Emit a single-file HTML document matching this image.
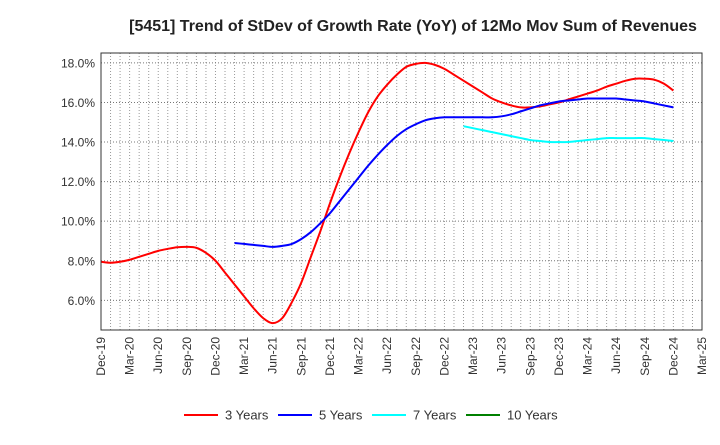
<!DOCTYPE html>
<html><head><meta charset="utf-8"><style>
body{margin:0;background:#fff;font-family:"Liberation Sans",Arial,sans-serif}
svg text{font-family:"Liberation Sans",Arial,sans-serif}
</style></head><body>
<svg id="chart" width="720" height="440" xmlns="http://www.w3.org/2000/svg">
<text x="413" y="31" text-anchor="middle" font-size="16" font-weight="bold" fill="#222">[5451]  Trend of StDev of Growth Rate (YoY) of 12Mo Mov Sum of Revenues</text>
<g id="grid"></g>
<g id="series"></g>
<rect x="101" y="53" width="601" height="277" fill="none" stroke="#333" stroke-width="1"/>
<g id="axes"></g>
<g id="legend"></g>
</svg>
<script>
const xTickLabels=["Dec-19","Mar-20","Jun-20","Sep-20","Dec-20","Mar-21","Jun-21","Sep-21","Dec-21","Mar-22","Jun-22","Sep-22","Dec-22","Mar-23","Jun-23","Sep-23","Dec-23","Mar-24","Jun-24","Sep-24","Dec-24","Mar-25"];
const yTicks=[6,8,10,12,14,16,18];
const red3=[7.95,7.9,7.95,8.05,8.2,8.35,8.5,8.6,8.68,8.7,8.65,8.4,8.0,7.4,6.8,6.2,5.6,5.1,4.85,5.1,5.9,6.9,8.2,9.5,10.9,12.2,13.4,14.5,15.5,16.3,16.9,17.4,17.8,17.95,18.0,17.9,17.7,17.4,17.1,16.8,16.5,16.2,16.0,15.85,15.75,15.75,15.8,15.9,16.0,16.15,16.3,16.45,16.6,16.8,16.95,17.1,17.2,17.2,17.15,16.95,16.6];
const blue5Start=14;
const blue5=[8.9,8.85,8.8,8.75,8.7,8.75,8.85,9.1,9.45,9.9,10.4,11.0,11.6,12.2,12.8,13.35,13.85,14.3,14.65,14.9,15.1,15.2,15.25,15.25,15.25,15.25,15.25,15.25,15.3,15.4,15.55,15.7,15.85,15.95,16.05,16.1,16.15,16.2,16.2,16.2,16.2,16.15,16.1,16.05,15.95,15.85,15.75];
const cyan7Start=38;
const cyan7=[14.8,14.7,14.6,14.5,14.4,14.3,14.2,14.1,14.05,14.0,14.0,14.0,14.05,14.1,14.15,14.2,14.2,14.2,14.2,14.2,14.15,14.1,14.05];
const green10=[];
const NS="http://www.w3.org/2000/svg";
const L=101,R=702,T=53,B=330,yMin=4.5,yMax=18.5,nMonths=63;
const X=i=>L+(R-L)*i/nMonths;
const Y=v=>B-(v-yMin)/(yMax-yMin)*(B-T);
function mk(tag,attrs,parent){const e=document.createElementNS(NS,tag);for(const k in attrs)e.setAttribute(k,attrs[k]);parent.appendChild(e);return e;}
const grid=document.getElementById('grid'),axes=document.getElementById('axes'),ser=document.getElementById('series'),leg=document.getElementById('legend');
for(let m=1;m<nMonths;m++){const l=mk('line',{x1:X(m),x2:X(m),y1:T,y2:B,stroke:'#999','stroke-width':1,'stroke-dasharray':'1,2'},grid);

}
yTicks.forEach(v=>{const l=mk('line',{x1:L,x2:R,y1:Y(v),y2:Y(v),stroke:'#777','stroke-width':1,'stroke-dasharray':'1,2'},grid);


const t=mk('text',{x:L-6,y:Y(v)+4.5,'text-anchor':'end','font-size':12,fill:'#333'},axes);t.textContent=v.toFixed(1)+'%';

});
xTickLabels.forEach((s,i)=>{const x=X(i*3);const t=mk('text',{x:0,y:0,'text-anchor':'end','font-size':12,fill:'#333',transform:`translate(${x+4},337) rotate(-90)`},axes);t.textContent=s;

});
function path(vals,start){const p=vals.map((v,i)=>[X(start+i),Y(v)]);if(p.length<2)return '';let d=`M${p[0][0]},${p[0][1]}`;
for(let i=0;i<p.length-1;i++){const p0=p[i-1]||p[i],p1=p[i],p2=p[i+1],p3=p[i+2]||p2;
d+=`C${p1[0]+(p2[0]-p0[0])/6},${p1[1]+(p2[1]-p0[1])/6} ${p2[0]-(p3[0]-p1[0])/6},${p2[1]-(p3[1]-p1[1])/6} ${p2[0]},${p2[1]}`;}return d;}
const series=[[red3,0,'#ff0000','3 Years','line-3-years'],[blue5,blue5Start,'#0000ff','5 Years','line-5-years'],[cyan7,cyan7Start,'#00ffff','7 Years','line-7-years'],[green10,0,'#008000','10 Years','line-10-years']];
series.forEach(([v,s,c,n,dn],k)=>{if(v.length>1){const e=mk('path',{d:path(v,s),fill:'none',stroke:c,'stroke-width':2},ser);

}
const lx=[184,278,372,466][k];
const g=mk('g',{},leg);


mk('line',{x1:lx,x2:lx+34,y1:415,y2:415,stroke:c,'stroke-width':2},g);
const t=mk('text',{x:lx+41,y:419.5,'font-size':13,fill:'#333'},g);t.textContent=n;});
</script>
</body></html>
